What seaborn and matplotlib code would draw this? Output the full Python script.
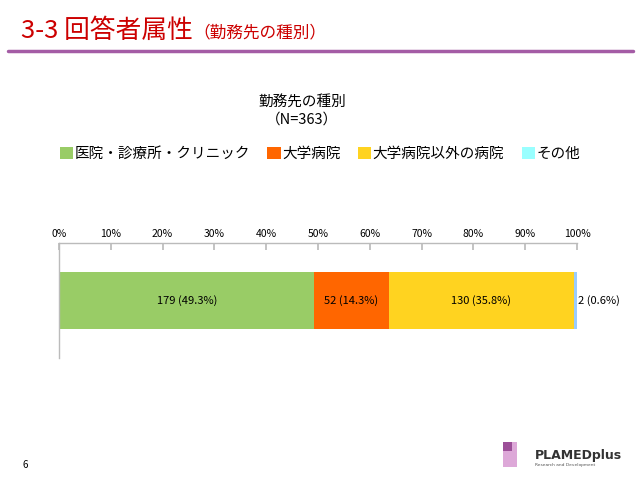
import matplotlib
matplotlib.use("Agg")
import matplotlib.pyplot as plt
from matplotlib.patches import Rectangle, Patch
from matplotlib.lines import Line2D
import seaborn as sns
import pandas as pd
import numpy as np

categories = ["医院・診療所・クリニック", "大学病院", "大学病院以外の病院", "その他"]
counts = [179, 52, 130, 2]
bar_colors = ["#99CC66", "#FF6600", "#FFD320", "#99CCFF"]
legend_colors = ["#99CC66", "#FF6600", "#FFD320", "#99FFFF"]
xticks = [0, 10, 20, 30, 40, 50, 60, 70, 80, 90, 100]
xtick_labels = ["0%", "10%", "20%", "30%", "40%", "50%", "60%", "70%", "80%", "90%", "100%"]
n_total = 363

sns.set_theme(style="white")
plt.rcParams["font.family"] = ["Noto Sans CJK JP", "DejaVu Sans"]
plt.rcParams["text.color"] = "black"
plt.rcParams["xtick.color"] = "black"

fig = plt.figure(figsize=(6.4, 4.8), dpi=100)
ax = fig.add_axes([59/640, 1-358/480, (577-59)/640, (358-243)/480])

pcts = [c / n_total * 100 for c in counts]
cum = np.cumsum(pcts)
df = pd.DataFrame({"cat": categories, "cum": cum, "row": ["a"] * 4})

# draw cumulative bars from largest to smallest so they stack visually
for i in reversed(range(len(categories))):
    sns.barplot(data=df.iloc[[i]], x="cum", y="row", color=bar_colors[i],
                orient="h", width=0.504, ax=ax, saturation=1, linewidth=0)

ax.set_xlim(0, 100)
ax.set_ylim(0.5, -0.5)
ax.set_xlabel("")
ax.set_ylabel("")
ax.set_yticks([])

ax.xaxis.set_ticks_position("top")
ax.xaxis.set_label_position("top")
ax.set_xticks(xticks)
ax.set_xticklabels(xtick_labels, fontsize=7.5)
ax.tick_params(axis="x", direction="in", length=5, color="#BBBBBB", labelcolor="black",
               pad=3, top=True, bottom=False)

for s in ["right", "bottom"]:
    ax.spines[s].set_visible(False)
for s in ["top", "left"]:
    ax.spines[s].set_color("#BBBBBB")
    ax.spines[s].set_linewidth(1.0)

# data labels
starts = np.concatenate([[0], cum[:-1]])
for i, (c, p) in enumerate(zip(counts, pcts)):
    label = f"{c} ({p:.1f}%)"
    if p > 5:
        ax.text(starts[i] + p / 2, 0, label, ha="center", va="center", fontsize=8, color="black")
    else:
        ax.text(cum[i] + 0.1, 0, label, ha="left", va="center", fontsize=8, color="black")

# chart title
fig.text(302/640, 1-103/480, "勤務先の種別", ha="center", va="center", fontsize=10.5)
fig.text(302/640, 1-120/480, "（N=363）", ha="center", va="center", fontsize=10.5)

# legend
handles = [Patch(facecolor=col, edgecolor="none", label=cat) for cat, col in zip(categories, legend_colors)]
fig.legend(handles=handles, loc="center", bbox_to_anchor=(320/640, 1-154/480), ncol=4,
           frameon=False, fontsize=10.5, handlelength=0.9, handleheight=0.9,
           handletextpad=0.1, columnspacing=1.2, borderaxespad=0)

# page header
fig.text(21/640, 1-31/480, "3-3 回答者属性", ha="left", va="center", fontsize=18.5,
         color="#CC0000")
fig.text(193/640, 1-33/480, "（勤務先の種別）", ha="left", va="center", fontsize=12,
         color="#CC0000")
fig.add_artist(Line2D([8/640, 633/640], [1-51/480, 1-51/480], color="#A45CA5", lw=2.5))

# page number
fig.text(25/640, 1-465/480, "6", ha="center", va="center", fontsize=7)

# logo
fig.add_artist(Rectangle((503/640, 1-467/480), 14/640, 25/480, facecolor="#DDA8D8", edgecolor="none"))
fig.add_artist(Rectangle((503/640, 1-451/480), 9/640, 9/480, facecolor="#9C4F98", edgecolor="none"))
fig.text(535/640, 1-455/480, "PLAMEDplus", ha="left", va="center", fontsize=9,
         fontweight="bold", color="#333333", family=["DejaVu Sans"])
fig.text(535/640, 1-465/480, "Research and Development", ha="left", va="center", fontsize=3.2,
         color="#555555", family=["DejaVu Sans"])

fig.savefig("out.png", dpi=100)
